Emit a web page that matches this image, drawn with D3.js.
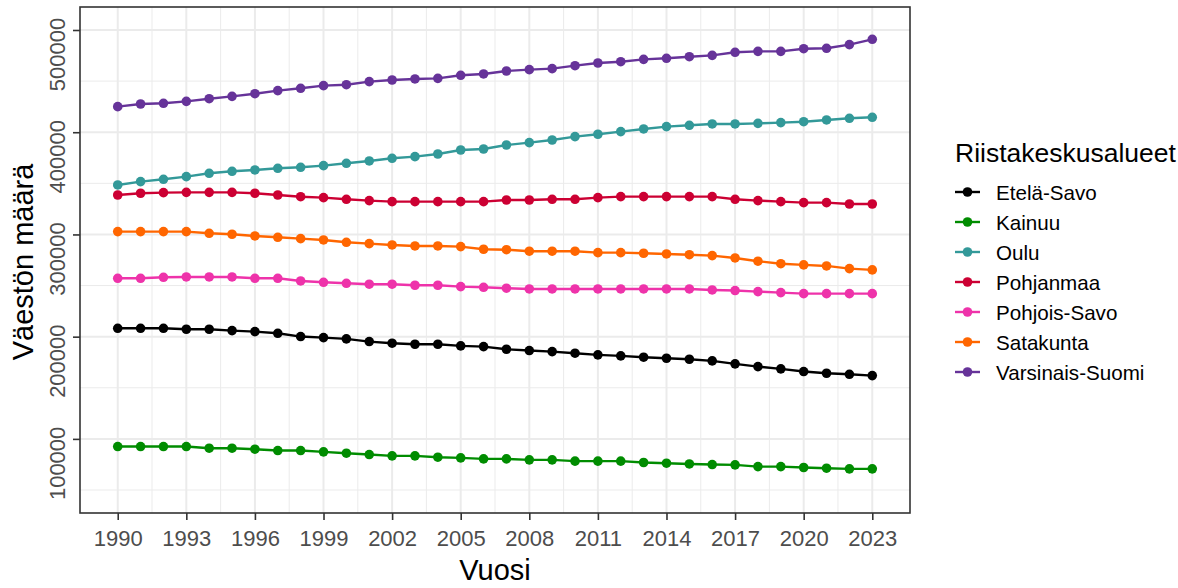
<!DOCTYPE html>
<html><head><meta charset="utf-8">
<script src="https://cdn.jsdelivr.net/npm/d3@7"></script>
<style>body{margin:0;background:#fff}svg{display:block;font-family:"Liberation Sans",Arial,sans-serif}</style>
</head><body>
<svg id="c" width="1178" height="588"></svg>
<script>
const years = d3.range(1990, 2024);
const seriesNames = ["Etelä-Savo","Kainuu","Oulu","Pohjanmaa","Pohjois-Savo","Satakunta","Varsinais-Suomi"];
const seriesColors = ["#000000","#008c00","#339999","#cc0033","#ee33aa","#ff6600","#663399"];
const xTicks = [1990,1993,1996,1999,2002,2005,2008,2011,2014,2017,2020,2023];
const yTicks = [100000,200000,300000,400000,500000];
const yLimits = [50000, 500000];

const etelaSavo = [208200,208200,208200,207250,207250,205950,204970,203300,200100,199100,197800,195200,193600,192600,192600,190950,190300,187700,186400,185400,183800,182200,181200,179900,178900,177900,176300,173400,170700,168500,165900,164200,163200,161900];
const kainuu = [92500,92500,92500,92500,90900,90900,89900,88600,88600,87300,86000,84700,83400,83400,82100,81400,80400,80400,79500,79500,78200,78200,78200,76900,76200,75500,74900,74600,72900,72900,72000,71300,70700,70700];
const oulu = [348400,351700,353950,356560,359800,361800,363100,364700,365700,367300,369600,371900,374500,376100,378700,382600,383600,387500,389800,392400,395700,398000,400600,403200,405500,406800,408100,408100,408700,409400,410300,412000,413600,414600];
const pohjanmaa = [338600,340300,340900,341200,341200,341200,340300,338600,336900,336000,334400,333100,332100,332100,332100,332100,332100,333700,333700,334400,334400,336000,337000,337000,337000,337000,337000,334400,333100,332100,331100,331100,329800,329800];
const pohjoisSavo = [257100,257100,258100,258400,258400,258400,257100,257100,254500,253200,252200,251300,251300,250300,250300,249000,248300,247400,246700,246700,246700,246700,246700,246700,246700,246700,245700,245100,244100,243100,242100,242100,242100,242100];
const satakunta = [302800,302800,302800,302800,301100,300200,298500,297200,295900,294600,292300,291000,289700,288750,288750,288100,285500,285100,283600,283600,283600,282200,282200,281600,280900,280200,279300,277000,273800,271400,270200,269200,266600,265300];
const varsinaisSuomi = [425000,427600,428300,430200,432800,435100,437700,440700,442950,445560,446500,449500,451100,452100,452700,455700,457000,459900,461200,462200,465100,467700,469000,471300,472300,473900,475200,478200,479100,479100,481700,482100,485700,490900];

const seriesValues = [etelaSavo,kainuu,oulu,pohjanmaa,pohjoisSavo,satakunta,varsinaisSuomi];

const svg = d3.select("#c");
const P = {l:80, r:910, t:7, b:513};

const xSpan = years[years.length-1]-years[0];
const x = d3.scaleLinear().domain([years[0]-0.05*xSpan, years[years.length-1]+0.05*xSpan]).range([P.l, P.r]);
const ySpan = yLimits[1]-yLimits[0];
const y = d3.scaleLinear().domain([yLimits[0]-0.05*ySpan, yLimits[1]+0.05*ySpan]).range([P.b, P.t]);

const grid = svg.append("g");
// minor grid
const xMinor = xTicks.slice(0,-1).map(v=>v+1.5);
const yMinor = [50000,150000,250000,350000,450000];
grid.selectAll(".xm").data(xMinor).join("line")
  .attr("x1",d=>x(d)).attr("x2",d=>x(d)).attr("y1",P.t).attr("y2",P.b)
  .attr("stroke","#ebebeb").attr("stroke-width",1);
grid.selectAll(".ym").data(yMinor).join("line")
  .attr("y1",d=>y(d)).attr("y2",d=>y(d)).attr("x1",P.l).attr("x2",P.r)
  .attr("stroke","#ebebeb").attr("stroke-width",1);
grid.selectAll(".xM").data(xTicks).join("line")
  .attr("x1",d=>x(d)).attr("x2",d=>x(d)).attr("y1",P.t).attr("y2",P.b)
  .attr("stroke","#ebebeb").attr("stroke-width",2);
grid.selectAll(".yM").data(yTicks).join("line")
  .attr("y1",d=>y(d)).attr("y2",d=>y(d)).attr("x1",P.l).attr("x2",P.r)
  .attr("stroke","#ebebeb").attr("stroke-width",2);

// series
const line = d3.line().x((d,i)=>x(years[i])).y(d=>y(d));
seriesValues.forEach((vals,k)=>{
  const g = svg.append("g");
  g.append("path").datum(vals).attr("d",line).attr("fill","none")
    .attr("stroke",seriesColors[k]).attr("stroke-width",2.4);
  g.selectAll("circle").data(vals).join("circle")
    .attr("cx",(d,i)=>x(years[i])).attr("cy",d=>y(d)).attr("r",4.8)
    .attr("fill",seriesColors[k]);
});

// panel border
svg.append("rect").attr("x",P.l).attr("y",P.t).attr("width",P.r-P.l).attr("height",P.b-P.t)
  .attr("fill","none").attr("stroke","#333333").attr("stroke-width",1.6);

// x axis
const xa = svg.append("g").attr("transform",`translate(0,${P.b})`)
  .call(d3.axisBottom(x).tickValues(xTicks).tickFormat(d3.format("d")).tickSize(7).tickPadding(10));
xa.select(".domain").remove();
xa.selectAll(".tick line").attr("stroke","#333333").attr("stroke-width",1.6);
xa.selectAll(".tick text").attr("fill","#4d4d4d").attr("font-size",22)
  .attr("font-family","Liberation Sans, Arial, sans-serif").attr("dy",null).attr("y",33);

// y axis
const ya = svg.append("g").attr("transform",`translate(${P.l},0)`)
  .call(d3.axisLeft(y).tickValues(yTicks).tickFormat(d3.format("d")).tickSize(7));
ya.select(".domain").remove();
ya.selectAll(".tick line").attr("stroke","#333333").attr("stroke-width",1.6);
ya.selectAll(".tick text").attr("fill","#4d4d4d").attr("font-size",22)
  .attr("font-family","Liberation Sans, Arial, sans-serif")
  .attr("x",null).attr("dy",null).attr("text-anchor","middle")
  .attr("transform","translate(-15,24) rotate(-90)");

// titles
svg.append("text").attr("x",(P.l+P.r)/2).attr("y",580).attr("text-anchor","middle")
  .attr("font-size",29).attr("fill","#000").text("Vuosi");
svg.append("text").attr("transform",`translate(33,${(P.t+P.b)/2+2}) rotate(-90)`).attr("text-anchor","middle")
  .attr("font-size",29).attr("fill","#000").text("Väestön määrä");

// legend
const lg = svg.append("g");
lg.append("text").attr("x",955).attr("y",161.5).attr("font-size",26.5).attr("fill","#000").text("Riistakeskusalueet");
seriesNames.forEach((n,k)=>{
  const cy = 192 + k*30;
  lg.append("line").attr("x1",955).attr("x2",980).attr("y1",cy).attr("y2",cy)
    .attr("stroke",seriesColors[k]).attr("stroke-width",2.4);
  lg.append("circle").attr("cx",967.5).attr("cy",cy).attr("r",4.8).attr("fill",seriesColors[k]);
  lg.append("text").attr("x",996).attr("y",cy+8).attr("font-size",20.6).attr("fill","#000").text(n);
});
</script>
</body></html>
